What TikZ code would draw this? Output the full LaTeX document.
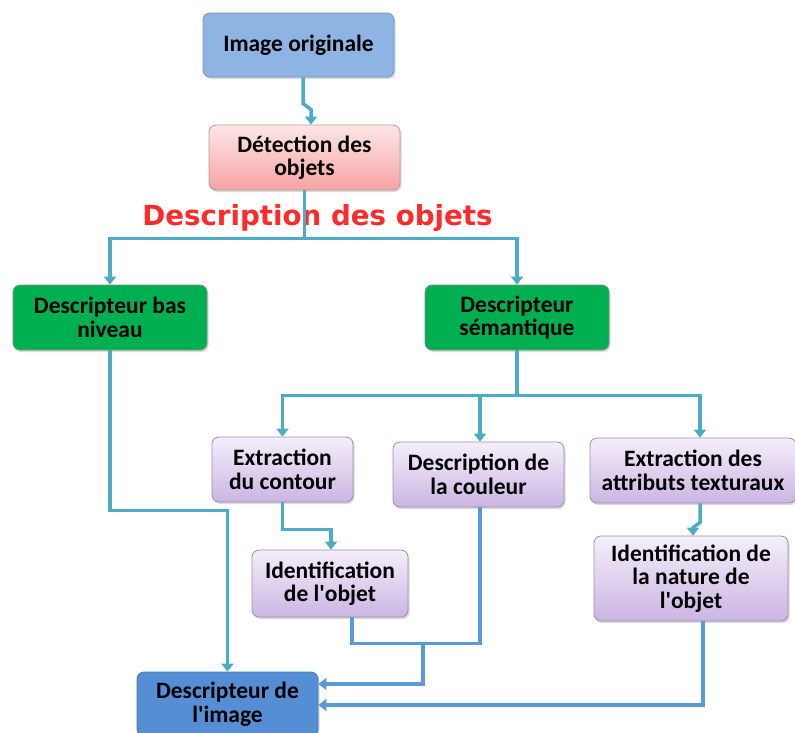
\documentclass[tikz,border=0pt]{standalone}
\usepackage{fontspec}
\setmainfont{Carlito}
\newfontfamily\titlefont{DejaVu Sans}
\usetikzlibrary{arrows.meta,shadows}

\definecolor{origblue}{HTML}{8DB4E2}
\definecolor{origedge}{HTML}{6F93C2}
\definecolor{pinktop}{HTML}{FFE6E6}
\definecolor{pinkbot}{HTML}{F5A3A3}
\definecolor{pinkedge}{HTML}{B89A9A}
\definecolor{boxgreen}{HTML}{00B050}
\definecolor{greenedge}{HTML}{7F8F84}
\definecolor{lavtop}{HTML}{F4EFFA}
\definecolor{lavbot}{HTML}{CBB5E3}
\definecolor{lavedge}{HTML}{9C8DAE}
\definecolor{imgblue}{HTML}{558ED5}
\definecolor{imgedge}{HTML}{4A78B0}
\definecolor{linkteal}{HTML}{4BACC6}
\definecolor{linkblue}{HTML}{5B9BD5}
\definecolor{titlered}{HTML}{FF2B2B}

\tikzset{
  box/.style={draw, line width=0.8pt, rounded corners=7pt, align=center,
    inner sep=2pt, text=black,
    font=\bfseries\fontsize{23.5}{23.5}\selectfont,
    drop shadow={shadow xshift=1.5pt, shadow yshift=-2pt, opacity=0.3}},
  origbox/.style={box, fill=origblue, draw=origedge},
  pinkbox/.style={box, top color=pinktop, bottom color=pinkbot, draw=pinkedge},
  greenbox/.style={box, fill=boxgreen, draw=greenedge},
  lavbox/.style={box, top color=lavtop, bottom color=lavbot, draw=lavedge},
  imgbox/.style={box, fill=imgblue, draw=imgedge},
  tealline/.style={draw=linkteal, line width=3.5pt},
  blueline/.style={draw=linkblue, line width=3.5pt},
  tip/.style={-{Triangle[width=12pt,length=8pt]}}
}

\begin{document}
\begin{tikzpicture}[x=1pt, y=-1pt]
\useasboundingbox (0,0) rectangle (795,732);

% title of the object description stage
\node[anchor=base, inner sep=0pt, text=titlered,
      font=\titlefont\bfseries\fontsize{27.7}{30}\selectfont]
      (title) at (317.5,225) {Description des objets};

% boxes
\node[origbox, minimum width=191pt, minimum height=64pt] (orig) at (298.5,45) {Image originale};
\node[pinkbox, minimum width=191pt, minimum height=65pt] (det) at (304.5,157.5) {Détection des\\objets};
\node[greenbox, minimum width=194pt, minimum height=65pt] (low) at (110,317.5) {Descripteur bas\\niveau};
\node[greenbox, minimum width=184pt, minimum height=65pt] (sem) at (517,317.5) {Descripteur\\sémantique};
\node[lavbox, minimum width=141pt, minimum height=65pt] (cont) at (282.5,469.5) {Extraction\\du contour};
\node[lavbox, minimum width=171pt, minimum height=65pt] (col) at (478.5,474.5) {Description de\\la couleur};
\node[lavbox, minimum width=206pt, minimum height=65pt] (tex) at (693,470.5) {Extraction des\\attributs texturaux};
\node[lavbox, minimum width=156pt, minimum height=67pt] (ident) at (330,583.5) {Identification\\de l\textquotesingle objet};
\node[lavbox, minimum width=194pt, minimum height=85pt] (nat) at (691,578.5) {Identification de\\la nature de\\l\textquotesingle objet};
\node[imgbox, minimum width=181pt, minimum height=64pt] (img) at (227.5,704) {Descripteur de\\l\textquotesingle image};

% teal connectors
\draw[tealline, tip] ([xshift=4.5pt]orig.south) -- ++(0,26)
  -- ([xshift=6.5pt,yshift=15pt]det.north) -- ([xshift=6.5pt]det.north);
\draw[tealline] (det.south) -- ++(0,48) coordinate (split1);
\draw[tealline, tip] (split1) -| (low.north);
\draw[tealline, tip] (split1) -| (sem.north);
\draw[tealline] (sem.south) -- ++(0,45) coordinate (split2);
\draw[tealline, tip] (split2) -| (cont.north);
\draw[tealline, tip] (split2) -| ([xshift=1.5pt]col.north);
\draw[tealline, tip] (split2) -| ([xshift=7pt]tex.north);
\draw[tealline, tip] (cont.south) -- ++(0,27) -| ([xshift=1pt]ident.north);
\draw[tealline, tip] ([xshift=7pt]tex.south) -- ++(0,19)
  -- ([xshift=2pt,yshift=8pt]nat.north) -- ([xshift=2pt]nat.north);
\draw[tealline, tip] (low.south) -- ++(0,160) -| (img.north);

% blue connectors into the image descriptor
\draw[blueline] ([xshift=22pt]ident.south) -- ++(0,26) -| ([xshift=1.5pt]col.south);
\coordinate (join) at (423,643);
\draw[blueline, tip] (join) |- ([yshift=20pt]img.east);
\draw[blueline, tip] ([xshift=12pt]nat.south) |- ([yshift=-1pt]img.east);
\end{tikzpicture}
\end{document}
